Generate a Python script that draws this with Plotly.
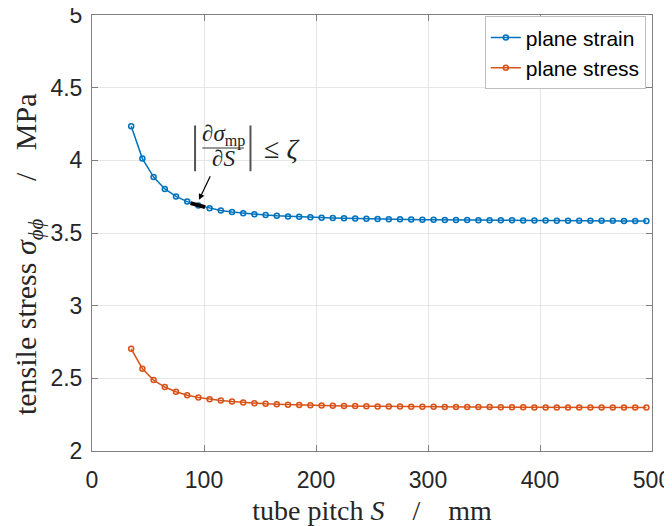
import plotly.graph_objects as go

pitch = [35, 45, 55, 65, 75, 85, 95, 105, 115, 125, 135, 145, 155, 165, 175, 185, 195,
         205, 215, 225, 235, 245, 255, 265, 275, 285, 295, 305, 315, 325, 335, 345, 355,
         365, 375, 385, 395, 405, 415, 425, 435, 445, 455, 465, 475, 485, 495]

plane_strain = [4.235, 4.012, 3.885, 3.803, 3.752, 3.716, 3.690, 3.670, 3.655, 3.644,
                3.636, 3.629, 3.623, 3.618, 3.614, 3.611, 3.608, 3.605, 3.603, 3.601,
                3.599, 3.598, 3.596, 3.595, 3.594, 3.593, 3.592, 3.591, 3.590, 3.590,
                3.589, 3.588, 3.588, 3.587, 3.587, 3.586, 3.586, 3.586, 3.585, 3.585,
                3.585, 3.584, 3.584, 3.584, 3.583, 3.583, 3.583]

plane_stress = [2.703, 2.566, 2.488, 2.440, 2.408, 2.384, 2.368, 2.356, 2.347, 2.340,
                2.334, 2.329, 2.325, 2.322, 2.319, 2.317, 2.315, 2.313, 2.312, 2.310,
                2.309, 2.308, 2.307, 2.306, 2.306, 2.305, 2.304, 2.304, 2.303, 2.303,
                2.302, 2.302, 2.302, 2.301, 2.301, 2.301, 2.300, 2.300, 2.300, 2.300,
                2.300, 2.299, 2.299, 2.299, 2.299, 2.299, 2.299]

# highlighted region where derivative criterion is met
hl_x = [88, 95, 101]
hl_y = [3.706, 3.690, 3.678]

x_ticks = [0, 100, 200, 300, 400, 500]
y_ticks = [2, 2.5, 3, 3.5, 4, 4.5, 5]
y_ticklabels = ["2", "2.5", "3", "3.5", "4", "4.5", "5"]

BLUE = "#0072BD"
ORANGE = "#D95319"
AX = "#262626"
BOX = "#808080"
SERIF = "Liberation Serif"
SANS = "Liberation Sans"
NB = "\u00a0"

fig = go.Figure()
fig.add_trace(go.Scatter(
    x=pitch, y=plane_strain, mode="lines+markers", name="plane strain",
    line=dict(color=BLUE, width=1.5),
    marker=dict(symbol="circle-open", size=5, color=BLUE, line=dict(width=1.5)),
))
fig.add_trace(go.Scatter(
    x=pitch, y=plane_stress, mode="lines+markers", name="plane stress",
    line=dict(color=ORANGE, width=1.5),
    marker=dict(symbol="circle-open", size=5, color=ORANGE, line=dict(width=1.5)),
))
fig.add_trace(go.Scatter(
    x=hl_x, y=hl_y, mode="lines", showlegend=False,
    line=dict(color="black", width=4),
))

# arrow
fig.add_annotation(x=95.5, y=3.728, xref="x", yref="y", ax=12, ay=-25,
                   showarrow=True, arrowhead=2, arrowsize=1, arrowwidth=1.2,
                   arrowcolor="black", text="")

# fraction annotation |dsigma_mp / dS| <= zeta
BAR = "#555555"
fig.add_shape(type="line", x0=92, x1=92, y0=4.24, y1=3.925, xref="x", yref="y",
              line=dict(color=BAR, width=2))
fig.add_shape(type="line", x0=141.5, x1=141.5, y0=4.24, y1=3.925, xref="x", yref="y",
              line=dict(color=BAR, width=2))
fig.add_shape(type="line", x0=98.5, x1=135.5, y0=4.085, y1=4.085, xref="x", yref="y",
              line=dict(color="#333333", width=1.2))
fig.add_annotation(x=117, y=4.172, xref="x", yref="y", showarrow=False,
                   text="∂<i>σ</i><sub>mp</sub>", font=dict(family=SERIF, size=23, color="#222"))
fig.add_annotation(x=117, y=4.01, xref="x", yref="y", showarrow=False,
                   text="∂<i>S</i>", font=dict(family=SERIF, size=23, color="#222"))
fig.add_annotation(x=152, y=4.08, xref="x", yref="y", showarrow=False, xanchor="left",
                   text="≤ <i>ζ</i>", font=dict(family=SERIF, size=28, color="#222"))

# y-axis title (placed as rotated text so it can sit slightly below centre, as in the original)
fig.add_annotation(x=-0.114, y=0.452, xref="paper", yref="paper", showarrow=False,
                   textangle=-90, xanchor="center", yanchor="middle",
                   text=f"tensile stress <i>σ</i><sub><i>ϕϕ</i></sub>{NB*5}/{NB*3}MPa",
                   font=dict(family=SERIF, size=30, color=AX))

axis_common = dict(
    showline=True, linecolor=BOX, linewidth=1, mirror="ticks",
    ticks="inside", ticklen=6, tickcolor=BOX, tickwidth=1,
    showgrid=True, gridcolor="#e6e6e6", gridwidth=1, zeroline=False,
    tickfont=dict(family=SANS, size=23, color=AX),
    automargin=False, ticklabeloverflow="allow",
)

fig.update_xaxes(range=[0, 500], tickvals=x_ticks, ticklabelstandoff=8,
                 title=dict(text=f"tube pitch <i>S</i>{NB*4}/{NB*4}mm", standoff=11,
                            font=dict(family=SERIF, size=28, color=AX)),
                 **axis_common)
fig.update_yaxes(range=[2, 5], tickvals=y_ticks, ticktext=y_ticklabels, ticklabelstandoff=4,
                 **axis_common)

# the page body adds an 8 px offset, so the figure is sized to fit the window
fig.update_layout(
    width=664, height=518,
    margin=dict(l=84, r=20, t=7, b=75),
    paper_bgcolor="white", plot_bgcolor="white",
    legend=dict(x=0.989, y=0.997, xanchor="right", yanchor="top",
                bgcolor="white", bordercolor="#bfbfbf", borderwidth=1,
                font=dict(family=SANS, size=21, color="black"),
                itemwidth=30, tracegroupgap=0),
)

fig.write_html("out.html")
